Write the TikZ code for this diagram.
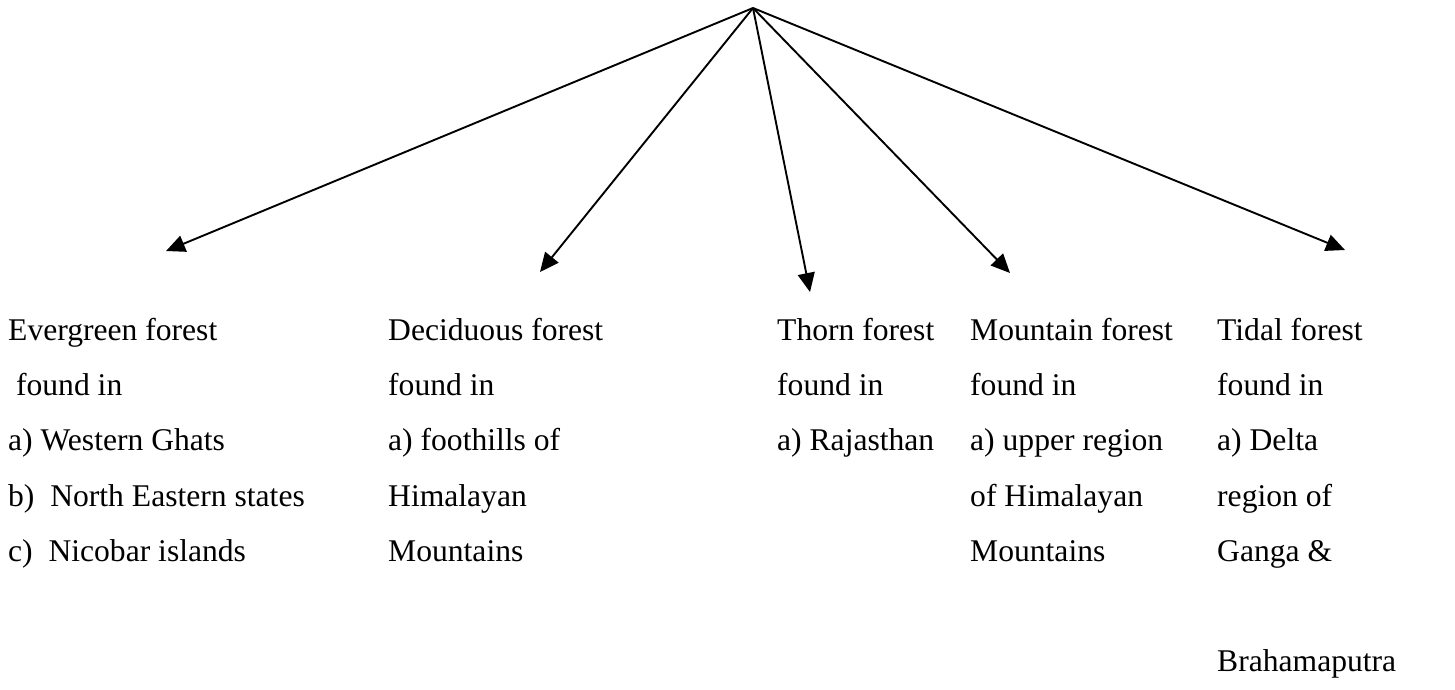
\documentclass[tikz,border=0pt]{standalone}
\usepackage{fontspec}
\setmainfont{Liberation Serif}
\usetikzlibrary{arrows.meta}
\begin{document}
\begin{tikzpicture}[x=1pt,y=-1pt,
  lbl/.style={anchor=base west,inner sep=0pt,font=\fontsize{31.6}{38}\selectfont},
  arr/.style={line width=1.9pt,-{Triangle[length=19pt,width=17pt]}}]
\useasboundingbox (0,0) rectangle (1455,689);
\coordinate (apex) at (753,8);
\coordinate (t1) at (166,251);
\coordinate (t2) at (540,272);
\coordinate (t3) at (810,292);
\coordinate (t4) at (1010,273);
\coordinate (t5) at (1345,250);
\foreach \t in {t1,t2,t3,t4,t5} \draw[arr] (apex) -- (\t);
% column 1
\node[lbl] (a1) at (8,340) {Evergreen forest};
\node[lbl] (a2) at (8,395) {\ found in};
\node[lbl] (a3) at (8,450) {a) Western Ghats};
\node[lbl] (a4) at (8,506) {b)\ \ North Eastern states};
\node[lbl] (a5) at (8,561) {c)\ \ Nicobar islands};
% column 2
\node[lbl] (b1) at (388,340) {Deciduous forest};
\node[lbl] (b2) at (388,395) {found in};
\node[lbl] (b3) at (388,450) {a) foothills of};
\node[lbl] (b4) at (388,506) {Himalayan};
\node[lbl] (b5) at (388,561) {Mountains};
% column 3
\node[lbl] (c1) at (777,340) {Thorn forest};
\node[lbl] (c2) at (777,395) {found in};
\node[lbl] (c3) at (777,450) {a) Rajasthan};
% column 4
\node[lbl] (d1) at (970,340) {Mountain forest};
\node[lbl] (d2) at (970,395) {found in};
\node[lbl] (d3) at (970,450) {a) upper region};
\node[lbl] (d4) at (970,506) {of Himalayan};
\node[lbl] (d5) at (970,561) {Mountains};
% column 5
\node[lbl] (e1) at (1217,340) {Tidal forest};
\node[lbl] (e2) at (1217,395) {found in};
\node[lbl] (e3) at (1217,450) {a) Delta};
\node[lbl] (e4) at (1217,506) {region of};
\node[lbl] (e5) at (1217,561) {Ganga \&};
\node[lbl] (e6) at (1217,671) {Brahamaputra};
\end{tikzpicture}
\end{document}
